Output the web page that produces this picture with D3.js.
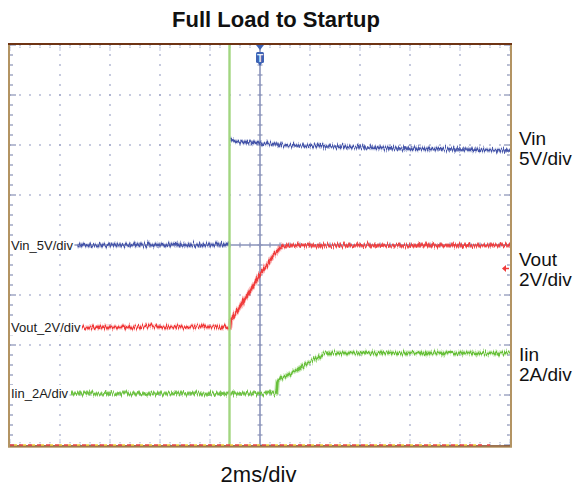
<!DOCTYPE html>
<html>
<head>
<meta charset="utf-8">
<script src="https://cdn.jsdelivr.net/npm/d3@7"></script>
<style>
  html, body { margin: 0; padding: 0; background: #ffffff; }
  svg { display: block; }
</style>
</head>
<body>
<svg id="chart" width="574" height="489"></svg>
<script>
// ---- Scope settings -------------------------------------------------------
const timeDomain = [-10, 10];          // ms, 2 ms/div, trigger at 0
const divDomain  = [-4, 4];            // vertical divisions

// ---- Captured waveforms (time in ms; null = edge too fast to resolve) ------
const vinTime  = [-7.3, -1.22, -1.22, -1.21, -0.8, 0, 1.0, 2.8, 5.6, 8.0, 10.0];
const vinValue = [0, 0, null, 10.5, 10.35, 10.15, 10.0, 9.85, 9.65, 9.55, 9.45]; // V

const voutTime  = [-7.16, -1.2, -1.17, -1.1, 0, 0.5, 0.8, 1.0, 10.0];
const voutValue = [0, 0, 0.3, 0.35, 2.08, 2.8, 3.16, 3.26, 3.26];              // V

const iinTime  = [-7.56, 0.66, 0.7, 2.6, 10.0];
const iinValue = [0, 0, 0.5, 1.62, 1.62];                                      // A

// Inrush spike on the input current at switch-on (clipped by the screen)
const iinSpikeTime  = [-1.22, -1.22];
const iinSpikeValue = [-4, 16];                                                // A

// Vout trigger level marker
const triggerLevel = 2.34;                                                     // V

// ---- Channel labels -------------------------------------------------------
const channelIds    = ["vin", "vout", "iin"];
const channelTags   = ["Vin_5V/div", "Vout_2V/div", "Iin_2A/div"];
const channelNames  = ["Vin", "Vout", "Iin"];
const channelScales = ["5V/div", "2V/div", "2A/div"];
const channelPerDiv = [5, 2, 2];
const channelGround = [0, -1.64, -2.97];   // ground reference, in divisions
const channelColors = ["#4656aa", "#f03a3a", "#68c03a"];

const titleText = "Full Load to Startup";
const timebaseText = "2ms/div";

// ---- Layout ---------------------------------------------------------------
const W = 574, H = 489;
const plot = { left: 10, top: 45, width: 500, height: 400 };
const right = plot.left + plot.width, bottom = plot.top + plot.height;

const svg = d3.select("#chart");
svg.append("rect").attr("width", W).attr("height", H).attr("fill", "#ffffff");

const x = d3.scaleLinear().domain(timeDomain).range([plot.left, right]);
const yDiv = d3.scaleLinear().domain(divDomain).range([bottom, plot.top]);

// each channel's value scale, shifted by its ground offset
const channels = channelIds.map((id, i) => ({
  id, tag: channelTags[i], name: channelNames[i], scale: channelScales[i],
  perDiv: channelPerDiv[i], ground: channelGround[i], color: channelColors[i],
  y: d3.scaleLinear()
    .domain([(divDomain[0] - channelGround[i]) * channelPerDiv[i],
             (divDomain[1] - channelGround[i]) * channelPerDiv[i]])
    .range([bottom, plot.top])
}));
const ch = Object.fromEntries(channels.map(c => [c.id, c]));

// ---- Defs: clip and trace fuzz ---------------------------------------------
const defs = svg.append("defs");
defs.append("clipPath").attr("id", "screen")
  .append("rect").attr("x", plot.left).attr("y", plot.top)
  .attr("width", plot.width).attr("height", plot.height);

const f = defs.append("filter").attr("id", "fuzz")
  .attr("filterUnits", "userSpaceOnUse")
  .attr("x", 0).attr("y", 0).attr("width", W).attr("height", H);
f.append("feTurbulence").attr("type", "fractalNoise")
  .attr("baseFrequency", "0.9 0.06").attr("numOctaves", 2).attr("seed", 7)
  .attr("result", "turb");
f.append("feColorMatrix").attr("in", "turb").attr("type", "matrix")
  .attr("values", "0 0 0 0 0.5  0 1 0 0 0  0 0 0 0 0  0 0 0 0 1")
  .attr("result", "map");
f.append("feDisplacementMap").attr("in", "SourceGraphic").attr("in2", "map")
  .attr("scale", 8).attr("xChannelSelector", "R").attr("yChannelSelector", "G");

// ---- Graticule -------------------------------------------------------------
const grat = svg.append("g");
const dotColor = "#9aa2c6";
const minor = 0.2;
const xDivs = d3.range(0, 10.001, minor);   // in divisions from left
const yDivs = d3.range(-4, 4.001, minor);
const xAtDiv = d => plot.left + d * plot.width / 10;

// dotted major lines
for (let i = 1; i < 10; i++) {
  if (i === 5) continue;
  yDivs.forEach(v => grat.append("rect")
    .attr("x", xAtDiv(i) - 0.75).attr("y", yDiv(v) - 0.75)
    .attr("width", 1.5).attr("height", 1.5).attr("fill", dotColor));
}
for (let j = -3; j <= 3; j++) {
  if (j === 0) continue;
  xDivs.forEach(d => grat.append("rect")
    .attr("x", xAtDiv(d) - 0.75).attr("y", yDiv(j) - 0.75)
    .attr("width", 1.5).attr("height", 1.5).attr("fill", dotColor));
}
// edge ticks
xDivs.forEach((d, k) => {
  const len = (k % 5 === 0) ? 6 : 3;
  grat.append("line").attr("x1", xAtDiv(d)).attr("x2", xAtDiv(d))
    .attr("y1", plot.top).attr("y2", plot.top + len)
    .attr("stroke", dotColor).attr("stroke-width", 1.2).attr("stroke-dasharray", "1.2,1");
  grat.append("line").attr("x1", xAtDiv(d)).attr("x2", xAtDiv(d))
    .attr("y1", bottom).attr("y2", bottom - len)
    .attr("stroke", dotColor).attr("stroke-width", 1.2).attr("stroke-dasharray", "1.2,1");
});
yDivs.forEach((v, k) => {
  const len = (k % 5 === 0) ? 6 : 3;
  grat.append("line").attr("x1", plot.left).attr("x2", plot.left + len)
    .attr("y1", yDiv(v)).attr("y2", yDiv(v))
    .attr("stroke", "#8890b4").attr("stroke-width", 1.2);
  grat.append("line").attr("x1", right).attr("x2", right - len)
    .attr("y1", yDiv(v)).attr("y2", yDiv(v))
    .attr("stroke", "#8890b4").attr("stroke-width", 1.2);
});
// solid centre axes with minor ticks
const axisColor = "#8a93ba";
grat.append("line").attr("x1", plot.left).attr("x2", right)
  .attr("y1", yDiv(0)).attr("y2", yDiv(0))
  .attr("stroke", axisColor).attr("stroke-width", 1.6);
grat.append("line").attr("x1", x(0)).attr("x2", x(0))
  .attr("y1", plot.top).attr("y2", bottom)
  .attr("stroke", axisColor).attr("stroke-width", 1.6);
xDivs.forEach(d => grat.append("line")
  .attr("x1", xAtDiv(d)).attr("x2", xAtDiv(d))
  .attr("y1", yDiv(0) - 2.5).attr("y2", yDiv(0) + 2.5)
  .attr("stroke", axisColor).attr("stroke-width", 1.2));
yDivs.forEach(v => grat.append("line")
  .attr("x1", x(0) - 2.5).attr("x2", x(0) + 2.5)
  .attr("y1", yDiv(v)).attr("y2", yDiv(v))
  .attr("stroke", axisColor).attr("stroke-width", 1.2));

// ---- Traces ----------------------------------------------------------------
const traces = svg.append("g").attr("clip-path", "url(#screen)");
const line = (c) => d3.line()
  .defined(d => d[1] !== null)
  .x(d => x(d[0])).y(d => c.y(d[1]));

const series = [
  { c: ch.iin,  data: d3.zip(iinTime, iinValue) },
  { c: ch.vout, data: d3.zip(voutTime, voutValue) },
  { c: ch.vin,  data: d3.zip(vinTime, vinValue) }
];
const fuzzy = traces.append("g").attr("filter", "url(#fuzz)");
series.forEach(s => {
  fuzzy.append("path").datum(s.data).attr("d", line(s.c))
    .attr("fill", "none").attr("stroke", s.c.color)
    .attr("stroke-opacity", 0.35).attr("stroke-width", 5)
    .attr("stroke-linejoin", "round");
  fuzzy.append("path").datum(s.data).attr("d", line(s.c))
    .attr("fill", "none").attr("stroke", s.c.color)
    .attr("stroke-width", 2.6).attr("stroke-linejoin", "round");
});

// inrush spike, faint, drawn over the other traces
traces.append("path")
  .datum(d3.zip(iinSpikeTime, iinSpikeValue))
  .attr("d", line(ch.iin))
  .attr("fill", "none").attr("stroke", "#a2d680").attr("stroke-width", 2.4);

// ---- Frame -----------------------------------------------------------------
const frame = svg.append("g");
frame.append("line").attr("x1", plot.left - 1).attr("x2", plot.left - 1)
  .attr("y1", plot.top - 1).attr("y2", bottom + 2)
  .attr("stroke", "#b39463").attr("stroke-width", 2);
frame.append("line").attr("x1", right + 1).attr("x2", right + 1)
  .attr("y1", plot.top - 1).attr("y2", bottom + 2)
  .attr("stroke", "#b39463").attr("stroke-width", 2);
frame.append("line").attr("x1", plot.left - 2).attr("x2", right + 2)
  .attr("y1", plot.top - 1).attr("y2", plot.top - 1)
  .attr("stroke", "#6e3414").attr("stroke-width", 2);
frame.append("line").attr("x1", plot.left - 2).attr("x2", right + 2)
  .attr("y1", bottom + 2).attr("y2", bottom + 2)
  .attr("stroke", "#b39463").attr("stroke-width", 1.5);
frame.append("line").attr("x1", plot.left).attr("x2", right)
  .attr("y1", bottom + 0.8).attr("y2", bottom + 0.8)
  .attr("stroke", "#7a4318").attr("stroke-width", 1.2);
// record indicator along the bottom edge
frame.append("line").attr("x1", plot.left).attr("x2", right - 20)
  .attr("y1", bottom).attr("y2", bottom)
  .attr("stroke", "#ee4444").attr("stroke-width", 1.6).attr("stroke-dasharray", "4,5");
frame.append("line").attr("x1", plot.left + 4).attr("x2", right - 30)
  .attr("y1", bottom).attr("y2", bottom)
  .attr("stroke", "#f2d23a").attr("stroke-width", 1.6).attr("stroke-dasharray", "3,6");

// ---- Trigger markers -------------------------------------------------------
const tx = x(0);
svg.append("path")
  .attr("d", `M${tx - 4},${plot.top} L${tx + 4},${plot.top} L${tx},${plot.top + 5} Z`)
  .attr("fill", "#3f63b4");
svg.append("rect").attr("x", tx - 4).attr("y", plot.top + 7)
  .attr("width", 8).attr("height", 11).attr("rx", 1.5).attr("fill", "#3f63b4");
svg.append("path")
  .attr("d", `M${tx - 2},${plot.top + 18} L${tx + 2},${plot.top + 18} L${tx},${plot.top + 21} Z`)
  .attr("fill", "#3f63b4");
svg.append("text").attr("x", tx).attr("y", plot.top + 16.5)
  .attr("text-anchor", "middle").attr("font-family", "Liberation Sans, Arial, sans-serif")
  .attr("font-size", 10).attr("font-weight", "bold").attr("fill", "#e8eefa").text("T");

// Vout trigger level arrow
const ty = ch.vout.y(triggerLevel);
svg.append("path")
  .attr("d", `M${right - 8},${ty} L${right - 4},${ty - 3.5} L${right - 4},${ty + 3.5} Z`)
  .attr("fill", "#f03a3a");
svg.append("line").attr("x1", right - 5).attr("x2", right - 1)
  .attr("y1", ty).attr("y2", ty).attr("stroke", "#f03a3a").attr("stroke-width", 1.5);

// ---- Channel tags on the left -----------------------------------------------
channels.forEach(c => {
  const yy = yDiv(c.ground);
  const g = svg.append("g");
  const t = g.append("text").attr("x", plot.left + 1).attr("y", yy + 4.5)
    .attr("font-family", "Liberation Sans, Arial, sans-serif").attr("font-size", 13)
    .attr("fill", "#1a1a1a").text(c.tag);
  const bb = t.node().getBBox();
  g.insert("rect", "text").attr("x", plot.left).attr("y", bb.y - 1)
    .attr("width", bb.x + bb.width - plot.left + 1).attr("height", bb.height + 2)
    .attr("fill", "#ffffff");
});

// ---- Right-hand channel names --------------------------------------------------
const rightLabelY = { vin: 144.5, vout: 265.5, iin: 360.5 };
channels.forEach(c => {
  const t = svg.append("text").attr("x", 519).attr("y", rightLabelY[c.id])
    .attr("font-family", "Liberation Sans, Arial, sans-serif").attr("font-size", 19)
    .attr("fill", "#111");
  t.append("tspan").attr("x", 519).text(c.name);
  t.append("tspan").attr("x", 519).attr("dy", 20).text(c.scale);
});

// ---- Title and timebase -----------------------------------------------------------
svg.append("text").attr("x", 276).attr("y", 27).attr("text-anchor", "middle")
  .attr("font-family", "Liberation Sans, Arial, sans-serif").attr("font-size", 22)
  .attr("font-weight", "bold").attr("fill", "#111").text(titleText);
svg.append("text").attr("x", 258.5).attr("y", 481.5).attr("text-anchor", "middle")
  .attr("font-family", "Liberation Sans, Arial, sans-serif").attr("font-size", 22)
  .attr("fill", "#111").text(timebaseText);
</script>
</body>
</html>
